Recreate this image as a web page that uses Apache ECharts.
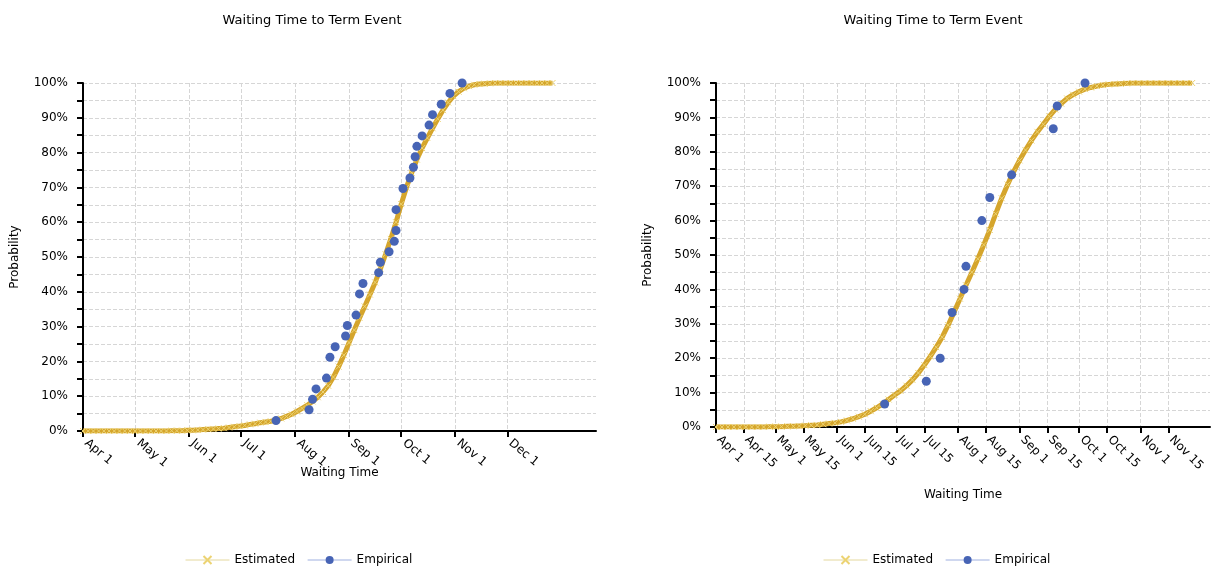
<!DOCTYPE html>
<html>
<head>
<meta charset="utf-8">
<title>Waiting Time to Term Event</title>
<style>
    body {
        margin: 0;
        padding: 0;
        background: #fff;
    }

    #chart {
        width: 1219px;
        height: 570px;
    }
</style>
</head>
<body>
<div id="chart"></div>
<script src="https://cdn.jsdelivr.net/npm/echarts@6/dist/echarts.min.js"></script>
<script>
    // ---- left panel ----
    var leftRange = ['2013-04-01', '2014-01-21'];
    var leftTicks = ['2013-04-01', '2013-05-01', '2013-06-01', '2013-07-01', '2013-08-01',
        '2013-09-01', '2013-10-01', '2013-11-01', '2013-12-01'];
    // estimated CDF, one reading every 3 days from Apr 1
    var leftEstStart = '2013-04-01';
    var leftEstStep = 3;
    var leftEstValues = [
        0, 0, 0, 0, 0, 0, 0, 0, 0, 0, 0, 0, 0, 0, 0, 0, 0,
        .001, .001, .001, .002, .002, .003, .004, .005, .006, .007,
        .008, .010, .012, .014, .016, .019, .021, .024, .026, .028,
        .031, .036, .042, .048, .056, .065, .074, .085, .097, .112,
        .130, .155, .185, .218, .254, .290, .325, .358, .392, .427,
        .466, .508, .552, .600, .652, .700, .742, .780, .813, .842,
        .870, .897, .922, .944, .962, .975, .985, .991, .995, .997,
        .998, .999,
        1, 1, 1, 1, 1, 1, 1, 1, 1, 1, 1, 1
    ];
    var leftEmpDates = ['2013-07-21', '2013-08-09', '2013-08-11', '2013-08-13', '2013-08-19',
        '2013-08-21', '2013-08-24', '2013-08-30', '2013-08-31', '2013-09-05', '2013-09-07',
        '2013-09-09', '2013-09-18', '2013-09-19', '2013-09-24', '2013-09-27', '2013-09-28',
        '2013-09-28', '2013-10-02', '2013-10-06', '2013-10-08', '2013-10-09', '2013-10-10',
        '2013-10-13', '2013-10-17', '2013-10-19', '2013-10-24', '2013-10-29', '2013-11-05'];
    var leftEmpValues = [.030, .061, .091, .121, .152, .212, .242, .273, .303, .333, .394,
        .424, .455, .485, .515, .545, .576, .636, .697, .727, .758, .788, .818, .848,
        .879, .909, .939, .970, 1.000];

    // ---- right panel ----
    var rightRange = ['2013-04-01', '2013-12-06'];
    var rightTicks = ['2013-04-01', '2013-04-15', '2013-05-01', '2013-05-15', '2013-06-01',
        '2013-06-15', '2013-07-01', '2013-07-15', '2013-08-01', '2013-08-15', '2013-09-01',
        '2013-09-15', '2013-10-01', '2013-10-15', '2013-11-01', '2013-11-15'];
    var rightEstStart = '2013-04-01';
    var rightEstStep = 3;
    var rightEstValues = [
        0, 0, 0, 0, 0, 0, 0, 0, 0,
        .001, .001, .001, .002, .002, .003, .004, .005, .006, .008,
        .010, .012, .015, .019, .024, .030, .037, .046, .056, .067,
        .080, .093, .105, .120, .137, .157, .180, .205, .232, .261,
        .296, .334, .373, .412, .450, .489, .530, .573, .620, .665,
        .705, .742, .775, .805, .833, .858, .880, .903, .923, .940,
        .955, .966, .975, .982, .987, .991, .994, .996, .997, .998,
        .999,
        1, 1, 1, 1, 1, 1, 1, 1, 1, 1, 1
    ];
    var rightEmpDates = ['2013-06-25', '2013-07-16', '2013-07-23', '2013-07-29', '2013-08-04',
        '2013-08-05', '2013-08-13', '2013-08-17', '2013-08-28', '2013-09-18', '2013-09-20',
        '2013-10-04'];
    var rightEmpValues = [.067, .133, .200, .333, .400, .467, .600, .667, .733, .867, .933, 1.000];

    var titleText = 'Waiting Time to Term Event';
    var monthNames = ['Jan', 'Feb', 'Mar', 'Apr', 'May', 'Jun', 'Jul', 'Aug', 'Sep', 'Oct', 'Nov', 'Dec'];
    var font = 'DejaVu Sans';
    var DAY = 86400000;

    function day(s) {
        var p = s.split('-');
        return new Date(+p[0], +p[1] - 1, +p[2]).getTime();
    }

    function estData(start, step, values) {
        var t0 = day(start);
        return values.map(function (v, i) { return [t0 + i * step * DAY, v]; });
    }

    function empData(dates, values) {
        return dates.map(function (d, i) { return [day(d), values[i]]; });
    }

    // dates are plotted as timestamps on a value axis so the ticks can be placed by hand.
    // an empty label sits at the axis end so the last real date is not dropped as the "max" label
    function xAxis(idx, range, ticks, rotate, gap) {
        var vals = ticks.map(day);
        var end = day(range[1]);
        return {
            type: 'value',
            gridIndex: idx,
            min: day(range[0]),
            max: end,
            name: 'Waiting Time',
            nameLocation: 'middle',
            nameGap: gap,
            nameMoveOverlap: false,
            nameTextStyle: { color: '#000', fontSize: 12, fontFamily: font },
            axisLine: { onZero: false, lineStyle: { color: '#000', width: 2 } },
            axisTick: { show: true, length: 6, customValues: vals, lineStyle: { color: '#000', width: 2 } },
            axisLabel: {
                customValues: vals.concat([end]), rotate: rotate, margin: 8, hideOverlap: false,
                padding: [0, 0, 0, 4],
                color: '#000', fontSize: 12, fontFamily: font,
                formatter: function (v) {
                    if (v >= end) return '';
                    var d = new Date(v);
                    return monthNames[d.getMonth()] + ' ' + d.getDate();
                }
            },
            splitLine: { show: true, lineStyle: { color: '#d6d6d6', type: 'dashed' } }
        };
    }

    function yAxis(idx) {
        return {
            type: 'value',
            gridIndex: idx,
            min: 0,
            max: 1,
            interval: 0.05,
            name: 'Probability',
            nameLocation: 'middle',
            nameRotate: 90,
            nameGap: 62,
            nameTextStyle: { color: '#000', fontSize: 12, fontFamily: font },
            axisLine: { show: true, lineStyle: { color: '#000', width: 2 } },
            axisTick: { show: true, length: 6, lineStyle: { color: '#000', width: 2 } },
            axisLabel: {
                margin: 15, color: '#000', fontSize: 12, fontFamily: font,
                formatter: function (v) {
                    var p = Math.round(v * 100);
                    return p % 10 === 0 ? p + '%' : '';
                }
            },
            splitLine: { show: true, lineStyle: { color: '#d6d6d6', type: 'dashed' } }
        };
    }

    var xMark = 'path://M0 0L10 10M10 0L0 10';

    function estSeries(idx, data) {
        return {
            name: 'Estimated',
            type: 'line',
            xAxisIndex: idx,
            yAxisIndex: idx,
            data: data,
            symbol: xMark,
            symbolSize: 6,
            showSymbol: true,
            itemStyle: { color: '#ecd372', borderColor: '#ecd372', borderWidth: 1 },
            lineStyle: { color: '#d5a52c', width: 5 },
            z: 2
        };
    }

    function empSeries(idx, data) {
        return {
            name: 'Empirical',
            type: 'line',
            xAxisIndex: idx,
            yAxisIndex: idx,
            data: data,
            symbol: 'circle',
            symbolSize: 9,
            showSymbol: true,
            itemStyle: { color: '#4764b5' },
            lineStyle: { width: 0 },
            z: 3
        };
    }

    function legend(left) {
        return {
            left: left,
            top: 549,
            itemWidth: 44,
            itemHeight: 10,
            itemGap: 12,
            textStyle: { color: '#000', fontSize: 12, fontFamily: font },
            data: [
                { name: 'Estimated', lineStyle: { color: '#e4d89e', width: 1 } },
                { name: 'Empirical', lineStyle: { color: '#9fb0e0', width: 1 } }
            ]
        };
    }

    var chart = echarts.init(document.getElementById('chart'));
    chart.setOption({
        animation: false,
        backgroundColor: '#fff',
        title: [
            { text: titleText, left: 307, top: 9, textAlign: 'center',
              textStyle: { fontSize: 13, fontWeight: 'normal', color: '#000', fontFamily: font } },
            { text: titleText, left: 928, top: 9, textAlign: 'center',
              textStyle: { fontSize: 13, fontWeight: 'normal', color: '#000', fontFamily: font } }
        ],
        legend: [legend(180), legend(818)],
        grid: [
            { left: 83, top: 83, width: 513, height: 348 },
            { left: 716, top: 83, width: 494, height: 344 }
        ],
        xAxis: [
            xAxis(0, leftRange, leftTicks, -40, 36),
            xAxis(1, rightRange, rightTicks, -45, 62)
        ],
        yAxis: [yAxis(0), yAxis(1)],
        series: [
            estSeries(0, estData(leftEstStart, leftEstStep, leftEstValues)),
            empSeries(0, empData(leftEmpDates, leftEmpValues)),
            estSeries(1, estData(rightEstStart, rightEstStep, rightEstValues)),
            empSeries(1, empData(rightEmpDates, rightEmpValues))
        ]
    });
</script>
</body>
</html>
